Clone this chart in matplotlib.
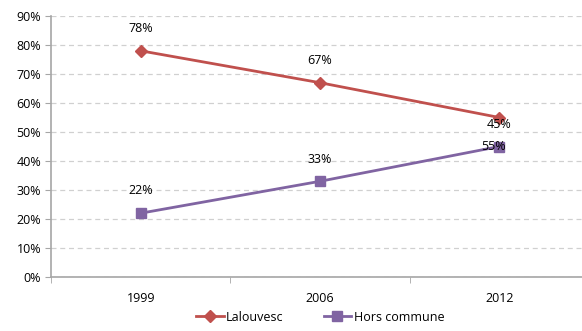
import matplotlib.pyplot as plt
from matplotlib.ticker import PercentFormatter

plt.rcParams['font.family'] = ['Open Sans', 'DejaVu Sans']

years = ['1999', '2006', '2012']
lalouvesc = [0.78, 0.67, 0.55]
hors_commune = [0.22, 0.33, 0.45]
red = '#C0504D'
purple = '#8064A2'

fig = plt.figure(figsize=(5.82, 3.31), dpi=100)
ax = fig.add_axes([51 / 582, 54 / 331, 538 / 582, 261 / 331])

x = range(len(years))
ax.plot(x, lalouvesc, color=red, lw=2, marker='D', ms=6.5, label='Lalouvesc')
ax.plot(x, hors_commune, color=purple, lw=2, marker='s', ms=7.5, label='Hors commune')

# value labels, mostly above the points; the last red one goes below
for i, v in enumerate(lalouvesc):
    dy = -21 if i == 2 else 16
    dx = -4 if i == 2 else 0
    ax.annotate(f'{round(v * 100)}%', (i, v), xytext=(dx, dy), textcoords='offset points',
                ha='center', va='center', fontsize=9, color='black')
for i, v in enumerate(hors_commune):
    ax.annotate(f'{round(v * 100)}%', (i, v), xytext=(0, 16), textcoords='offset points',
                ha='center', va='center', fontsize=9, color='black')

ax.set_xlim(-0.5, 2.5)
ax.set_ylim(0, 0.9)
ax.set_yticks([i / 10 for i in range(10)])
ax.yaxis.set_major_formatter(PercentFormatter(1.0, decimals=0))
ax.set_xticks(list(x))
ax.set_xticklabels(years)
ax.set_xticks([-0.5, 0.5, 1.5], minor=True)
ax.tick_params(axis='x', which='major', length=0, pad=11, labelsize=9)
ax.tick_params(axis='x', which='minor', length=4, color='#A6A6A6')
ax.tick_params(axis='y', length=4, color='#A6A6A6', labelsize=9, pad=3)

ax.grid(axis='y', color='#D0D0D0', ls=(0, (4, 3)), lw=0.9)
ax.set_axisbelow(True)
for s in ['top', 'right']:
    ax.spines[s].set_visible(False)
for s in ['left', 'bottom']:
    ax.spines[s].set_color('#A6A6A6')
    ax.spines[s].set_linewidth(1.2)

fig.legend(loc='lower center', bbox_to_anchor=(0.55, -0.012), ncol=2, frameon=False,
           fontsize=9, handlelength=2.2, columnspacing=3.2, handletextpad=0.2)

fig.savefig('out.png', dpi=100)
